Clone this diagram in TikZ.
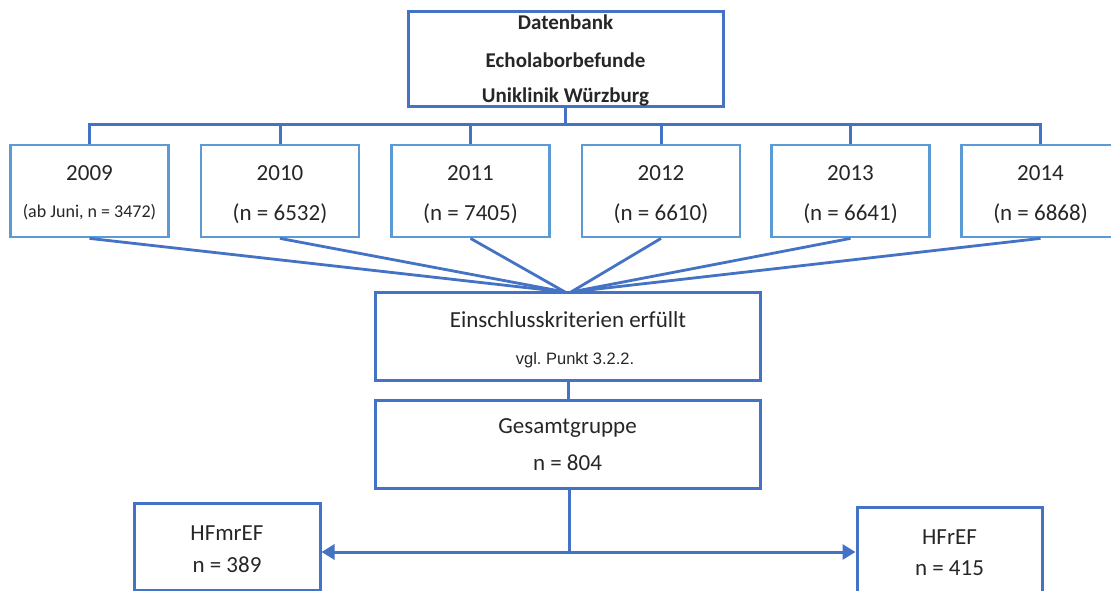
\documentclass[tikz,border=0pt]{standalone}
\usepackage{fontspec}
\setmainfont{Carlito}
\newfontfamily\arialf{Liberation Sans}
\usetikzlibrary{arrows.meta}
\frenchspacing
\definecolor{boxblue}{HTML}{4472C4}
\definecolor{yearblue}{HTML}{5B9BD5}
\definecolor{txt}{HTML}{262626}
\tikzset{
  box/.style={draw=boxblue, line width=3pt, rectangle, inner sep=0pt},
  yearbox/.style={draw=yearblue, line width=2.8pt, rectangle, inner sep=0pt, minimum width=158pt, minimum height=92pt},
  conn/.style={draw=boxblue, line width=3pt},
  lbl/.style={text=txt, inner sep=0pt, font=\fontsize{23}{26}\selectfont},
  bold/.style={text=txt, inner sep=0pt, font=\bfseries\fontsize{21}{24}\selectfont},
  small/.style={text=txt, inner sep=0pt, font=\fontsize{18}{20}\selectfont},
  arial/.style={text=txt, inner sep=0pt, font=\arialf\frenchspacing\fontsize{16.5}{20}\selectfont},
  tip/.style={-{Triangle[length=13pt,width=15pt]}}
}
\begin{document}
\begin{tikzpicture}[x=1pt,y=-1pt]
\useasboundingbox (0,0) rectangle (1111,591);
% top box
\node[box, minimum width=315pt, minimum height=95pt] (db) at (565.5,59.5) {};
\node[bold] (t1) at (565.5,22) {Datenbank};
\node[bold] (t2) at (565.5,60) {Echolaborbefunde};
\node[bold] (t3) at (565.5,97) {Uniklinik Würzburg};
% year boxes
\node[yearbox] (y1) at (89.5,191) {};
\node[yearbox] (y2) at (280,191) {};
\node[yearbox] (y3) at (470.5,191) {};
\node[yearbox] (y4) at (661,191) {};
\node[yearbox] (y5) at (850.5,191) {};
\node[yearbox] (y6) at (1040.5,191) {};
\node[lbl] (l1a) at (89.5,173) {2009};
\node[small] (l1b) at (89.5,212) {(ab Juni, n = 3472)};
\node[lbl] (l2a) at (280,173) {2010};
\node[lbl] (l2b) at (280,214) {(n = 6532)};
\node[lbl] (l3a) at (470.5,173) {2011};
\node[lbl] (l3b) at (470.5,214) {(n = 7405)};
\node[lbl] (l4a) at (661,173) {2012};
\node[lbl] (l4b) at (661,214) {(n = 6610)};
\node[lbl] (l5a) at (850.5,173) {2013};
\node[lbl] (l5b) at (850.5,214) {(n = 6641)};
\node[lbl] (l6a) at (1040.5,173) {2014};
\node[lbl] (l6b) at (1040.5,214) {(n = 6868)};
% tree from top box
\coordinate (bus) at (565.5,125);
\draw[conn] (db.south) -- (bus);
\draw[conn] (y1.north) |- (bus) -| (y6.north);
\foreach \y in {y2,y3,y4,y5} {\draw[conn] (\y.north) -- (\y.north |- bus);}
% Einschluss box
\node[box, minimum width=385pt, minimum height=88pt] (ein) at (567.5,336) {};
\node[lbl] (e1) at (568,320) {Einschlusskriterien erfüllt};
\node[arial] (e2) at (575,360) {vgl. Punkt 3.2.2.};
\coordinate (convl) at (565,292);
\coordinate (convr) at (571,292);
\foreach \y in {y1,y2,y3} {\draw[conn, line width=2.8pt] (\y.south) -- (convl);}
\foreach \y in {y4,y5,y6} {\draw[conn, line width=2.8pt] (\y.south) -- (convr);}
% Gesamt
\coordinate (mid) at (568,336);
\node[box, minimum width=385pt, minimum height=88pt] (ges) at (567.5,444) {};
\node[lbl] (g1) at (567.5,428) {Gesamtgruppe};
\node[lbl] (g2) at (567.5,463) {n = 804};
\draw[conn] (ein.south -| mid) -- (ges.north -| mid);
% bottom boxes
\node[box, minimum width=186pt, minimum height=87pt] (hm) at (227,546.5) {};
\node[lbl] (h1) at (227,533) {HFmrEF};
\node[lbl] (h2) at (227,565) {n = 389};
\node[box, minimum width=185pt, minimum height=90pt] (hr) at (949.5,552) {};
\node[lbl] (r1) at (949.5,537) {HFrEF};
\node[lbl] (r2) at (949.5,568) {n = 415};
\coordinate (split) at (569,552);
\draw[conn] (ges.south -| split) -- (split);
\draw[conn, tip] (split) -- (hm.east |- split);
\draw[conn, tip] (split) -- (hr.west |- split);
\end{tikzpicture}
\end{document}
